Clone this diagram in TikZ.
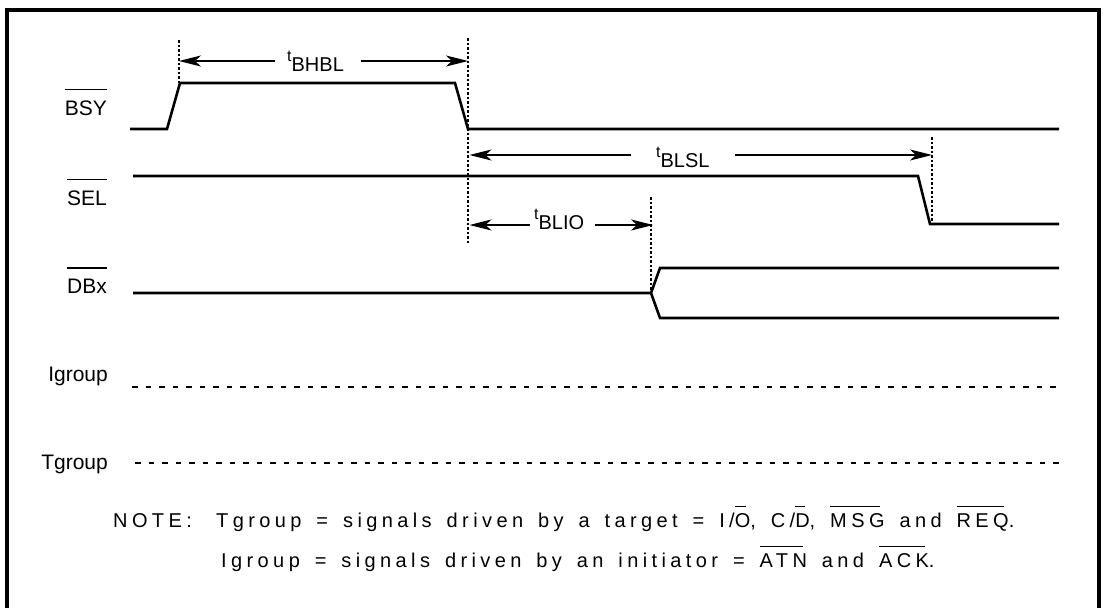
\documentclass[tikz,border=0pt]{standalone}
\usepackage{fontspec}
\setmainfont{Liberation Sans}
\newfontfamily\notefont[LetterSpace=22,WordSpace=1.5]{Liberation Sans}
\usetikzlibrary{arrows.meta}
\newcommand\ovsig[1]{\setbox0\hbox{#1}\vbox{\hrule width\wd0 height 1.4pt\kern 10pt\box0}}
\newcommand\ovn[1]{\setbox0\hbox{#1}\vbox{\hrule width\dimexpr\wd0-4.4pt\relax height 1.3pt\kern 6pt\box0}}
\newcommand\tlab[1]{{\fontsize{16}{16}\selectfont t}\raisebox{-10pt}{\fontsize{20}{20}\selectfont #1}}
\tikzset{
  sigline/.style={line width=2.6pt, line join=miter},
  grpline/.style={line width=2.4pt, dash pattern=on 5.5pt off 8pt},
  guide/.style={line width=1.1pt, dash pattern=on 2.5pt off 2pt},
  dimarrow/.style={line width=1.3pt, -{Stealth[length=22pt,width=11pt,inset=6pt]}},
  siglabel/.style={anchor=base east, inner sep=0pt, font=\fontsize{21}{23}\selectfont},
  tlabel/.style={anchor=base west, inner sep=0pt},
  notetext/.style={anchor=base west, inner sep=0pt, font=\notefont\fontsize{20}{22}\selectfont},
  frame/.style={line width=4pt}
}
\begin{document}
\begin{tikzpicture}[x=1pt,y=-1pt]
\useasboundingbox (0,0) rectangle (1104,608);
% frame
\draw[frame] (7,608) -- (7,10) -- (1099,10) -- (1099,608);

% signal labels
\node[siglabel] (lbsy) at (107,115) {\ovsig{BSY}};
\node[siglabel] (lsel) at (107,205) {\ovsig{SEL}};
\node[siglabel] (ldbx) at (107,293) {\ovsig{DBx}};
\node[siglabel] (ligr) at (108,381) {Igroup};
\node[siglabel] (ltgr) at (108,469) {Tgroup};

% waveforms
\draw[sigline] (130,129) -- (167,129) -- (180,83) -- (455,83) -- (468,129) -- (1059,129);
\draw[sigline] (133,176) -- (918,176) -- (930,224) -- (1059,224);
\coordinate (dbxsplit) at (651,293);
\draw[sigline] (133,293) -- (dbxsplit) -- (660,268) -- (1059,268);
\draw[sigline] (dbxsplit) -- (660,318) -- (1059,318);
\draw[grpline] (132,387) -- (1059,387);
\draw[grpline] (135,463) -- (1059,463);

% guide lines
\coordinate (g1t) at (179,40);  \coordinate (g1b) at (179,83);
\coordinate (g2t) at (468,38);  \coordinate (g2b) at (468,243);
\coordinate (g3t) at (651,197); \coordinate (g3b) at (651,293);
\coordinate (g4t) at (932,137); \coordinate (g4b) at (932,224);
\draw[guide] (g1t) -- (g1b);
\draw[guide] (g2t) -- (g2b);
\draw[guide] (g3t) -- (g3b);
\draw[guide] (g4t) -- (g4b);

% timing labels
\node[tlabel] (tbhbl) at (287,61) {\tlab{BHBL}};
\node[tlabel] (tblsl) at (656,157) {\tlab{BLSL}};
\node[tlabel] (tblio) at (534,219) {\tlab{BLIO}};

% dimension arrows
\coordinate (a1l) at (275,61); \coordinate (a1r) at (361,61);
\coordinate (a2l) at (631,155); \coordinate (a2r) at (735,155);
\coordinate (a3l) at (530,225); \coordinate (a3r) at (595,225);
\draw[dimarrow] (a1l) -- (g1t |- a1l);
\draw[dimarrow] (a1r) -- (g2t |- a1r);
\draw[dimarrow] (a2l) -- ([xshift=1.5pt]g2t |- a2l);
\draw[dimarrow] (a2r) -- (g4t |- a2r);
\draw[dimarrow] (a3l) -- ([xshift=1.5pt]g2t |- a3l);
\draw[dimarrow] (a3r) -- ([xshift=2pt]g3t |- a3r);

% note
\node[notetext] (nnote) at (113,527) {NOTE:};
\node[notetext] (nline1) at (216,527) {Tgroup = signals driven by a target = I/\ovn{O}, C/\ovn{D}, \ovn{MSG} and \ovn{REQ}.};
\node[notetext] (nline2) at (221,567) {Igroup = signals driven by an initiator = \ovn{ATN} and \ovn{ACK}.};
\end{tikzpicture}
\end{document}
